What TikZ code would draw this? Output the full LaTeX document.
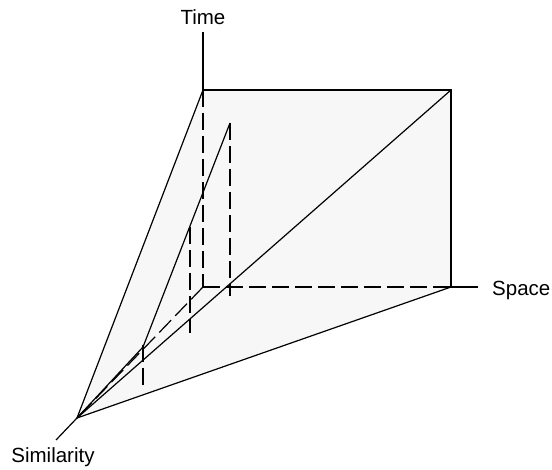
\documentclass[tikz,border=0pt]{standalone}
\usepackage{fontspec}
\setmainfont{Liberation Sans}
\begin{document}
\begin{tikzpicture}[x=1pt,y=-1pt,
  ln/.style={line width=1.2pt,line cap=butt,line join=miter},
  dsh/.style={ln,dash pattern=on 17pt off 6pt},
  lbl/.style={inner sep=0pt,font=\fontsize{20.5}{24}\selectfont}]
\useasboundingbox (0,0) rectangle (552,470);
\coordinate (S) at (77,418);
\coordinate (TL) at (203,90);
\coordinate (TR) at (451,90);
\coordinate (BR) at (451,287);
\coordinate (O) at (203,287);
\coordinate (Ttop) at (203,32);
\coordinate (Send) at (478,287);
\coordinate (Simend) at (56,440);
\coordinate (P) at (230,123);
\coordinate (Pf) at (230,296);
\coordinate (Q) at (143,347);
\coordinate (A1) at (190,227);
\coordinate (A2) at (190,333);
\coordinate (B1) at (143,345);
\coordinate (B2) at (143,388);
% shaded face
\fill[black!3] (S) -- (TL) -- (TR) -- (BR) -- cycle;
% dashed hidden lines
\draw[dsh] (TL) -- (O);
\draw[dsh] (O) -- (BR);
\draw[dsh] (O) -- (S);
\draw[dsh] (P) -- (Pf);
\draw[dsh] (A1) -- (A2);
\draw[dsh] (B1) -- (B2);
% solid lines
\draw[ln] (Ttop) -- (TL) -- (TR) -- (BR) -- (Send);
\draw[ln] (S) -- (TL);
\draw[ln] (S) -- (BR);
\draw[ln] (S) -- (TR);
\draw[ln] (P) -- (Q) -- (S);
\draw[ln] (S) -- (Simend);
% labels
\node[lbl,anchor=base] (time) at (203,25) {Time};
\node[lbl,anchor=base west] (space) at (492,296) {Space};
\node[lbl,anchor=base] (sim) at (53,463) {Similarity};
\end{tikzpicture}
\end{document}
